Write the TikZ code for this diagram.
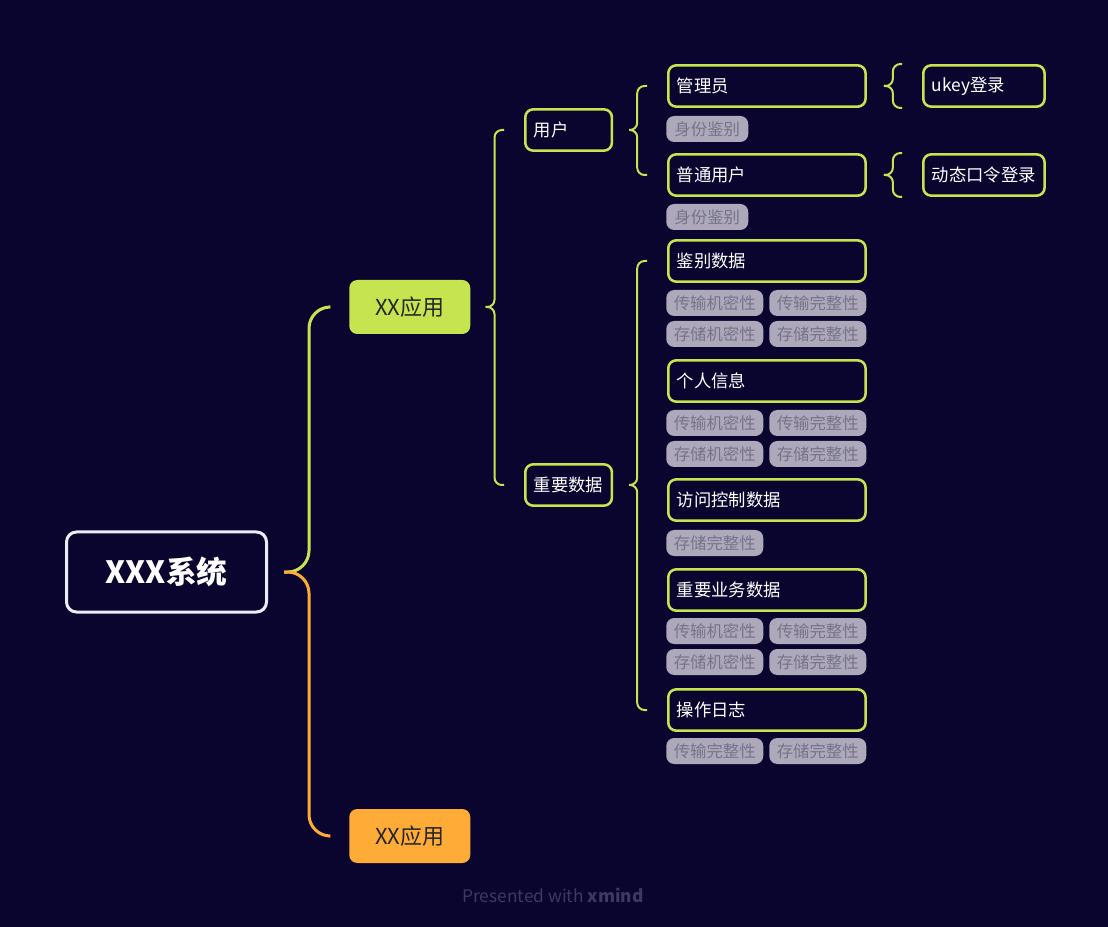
\documentclass[tikz,border=0pt]{standalone}
\usepackage{fontspec}
\setmainfont{Noto Sans CJK SC}
\definecolor{bgcol}{HTML}{0A052E}
\definecolor{limecol}{HTML}{C5E44F}
\definecolor{ambercol}{HTML}{FFAB38}
\definecolor{tagfill}{HTML}{ADA9BA}
\definecolor{tagtext}{HTML}{77738A}
\definecolor{rootline}{HTML}{ECECF8}
\definecolor{credit}{HTML}{3E3960}
\tikzset{
    rootbox/.style={draw=rootline, line width=2.25pt, rounded corners=7.5pt, anchor=west,
        minimum width=150pt, minimum height=60pt, text=white,
        font=\fontsize{23pt}{26pt}\selectfont\bfseries},
    appbox/.style={rounded corners=6pt, anchor=west, minimum width=90.75pt, minimum height=40.5pt,
        text=black!85, font=\fontsize{16.5pt}{19pt}\selectfont},
    topicbox/.style={draw=limecol, fill=bgcol, line width=1.9pt, rounded corners=6pt, anchor=west,
        minimum height=31pt, inner xsep=6.5pt, align=left, text=white,
        font=\fontsize{13pt}{15pt}\selectfont},
    tagbox/.style={fill=tagfill, rounded corners=6pt, anchor=west, minimum height=19.5pt,
        inner xsep=4pt, inner ysep=0pt, text=tagtext, font=\fontsize{12.3pt}{14pt}\selectfont},
    link/.style={line width=1.5pt, rounded corners=5.5pt, limecol},
    trunk/.style={line width=2.25pt, rounded corners=16pt}
}
\begin{document}
\begin{tikzpicture}[x=0.75pt, y=-0.75pt]

    \fill[bgcol] (0,0) rectangle (1108,927);

    \node[rootbox] (root) at (65,572) {XXX系统};
    \node[appbox, fill=limecol] (appA) at (349,307) {XX应用};
    \node[appbox, fill=ambercol] (appB) at (349,836) {XX应用};

    \node[topicbox, text width=52pt] (user) at (524,130) {用户};
    \node[topicbox, text width=52pt] (data) at (524,485) {重要数据};

    %users
    \node[topicbox, text width=135pt] (admin)  at (667,86)  {管理员};
    \node[topicbox, text width=135pt] (normal) at (667,175) {普通用户};
    \node[topicbox, text width=78pt]  (ukey)   at (922,86)  {ukey登录};
    \node[topicbox, text width=78pt]  (otp)    at (922,175) {动态口令登录};
    \node[tagbox, minimum width=61.5pt] (tagA) at (666,129) {身份鉴别};
    \node[tagbox, minimum width=61.5pt] (tagB) at (666,217) {身份鉴别};

    %data
    \node[topicbox, text width=135pt] (authdata) at (667,261) {鉴别数据};
    \node[topicbox, text width=135pt] (personal) at (667,381) {个人信息};
    \node[topicbox, text width=135pt] (access)   at (667,500) {访问控制数据};
    \node[topicbox, text width=135pt] (business) at (667,590) {重要业务数据};
    \node[topicbox, text width=135pt] (oplog)    at (667,710) {操作日志};

    %tags
    \foreach \y/\n in {303/a,423/b,631/c} {
        \node[tagbox, minimum width=72.75pt] (tc\n) at (666,\y) {传输机密性};
        \node[tagbox, minimum width=72.75pt] (ti\n) at (769,\y) {传输完整性};
        \node[tagbox, minimum width=72.75pt] (sc\n) at (666,\y+31) {存储机密性};
        \node[tagbox, minimum width=72.75pt] (si\n) at (769,\y+31) {存储完整性};
    }
    \node[tagbox, minimum width=72.75pt] (sid) at (666,543) {存储完整性};
    \node[tagbox, minimum width=72.75pt] (tie) at (666,751) {传输完整性};
    \node[tagbox, minimum width=72.75pt] (sie) at (769,751) {存储完整性};

    %braces
    \draw[trunk, limecol]  ([xshift=12pt]root.east) -- ++(18.75pt,0) |- ([xshift=-15pt]appA.west);
    \draw[trunk, ambercol] ([xshift=12pt]root.east) -- ++(18.75pt,0) |- ([xshift=-15pt]appB.west);
    \foreach \kid in {user,data}
        \draw[link] ([xshift=11.25pt]appA.east) -- ++(6.75pt,0) |- ([xshift=-15pt]\kid.west);
    \foreach \kid in {admin,normal}
        \draw[link] ([xshift=12pt]user.east) -- ++(6pt,0) |- ([xshift=-15pt]\kid.west);
    \foreach \kid in {authdata,oplog}
        \draw[link] ([xshift=12pt]data.east) -- ++(6pt,0) |- ([xshift=-15pt]\kid.west);
    \foreach \from/\kid in {admin/ukey,normal/otp} {
        \draw[link] ([xshift=12.75pt]\from.east) -- ++(6.75pt,0) |- ([xshift=-15pt]\kid.north west);
        \draw[link] ([xshift=12.75pt]\from.east) -- ++(6.75pt,0) |- ([xshift=-15pt]\kid.south west);
    }

    \node[text=credit, font=\fontsize{13pt}{15pt}\selectfont] (footer) at (553,895)
        {Presented with \textbf{xmind}};

\end{tikzpicture}
\end{document}
